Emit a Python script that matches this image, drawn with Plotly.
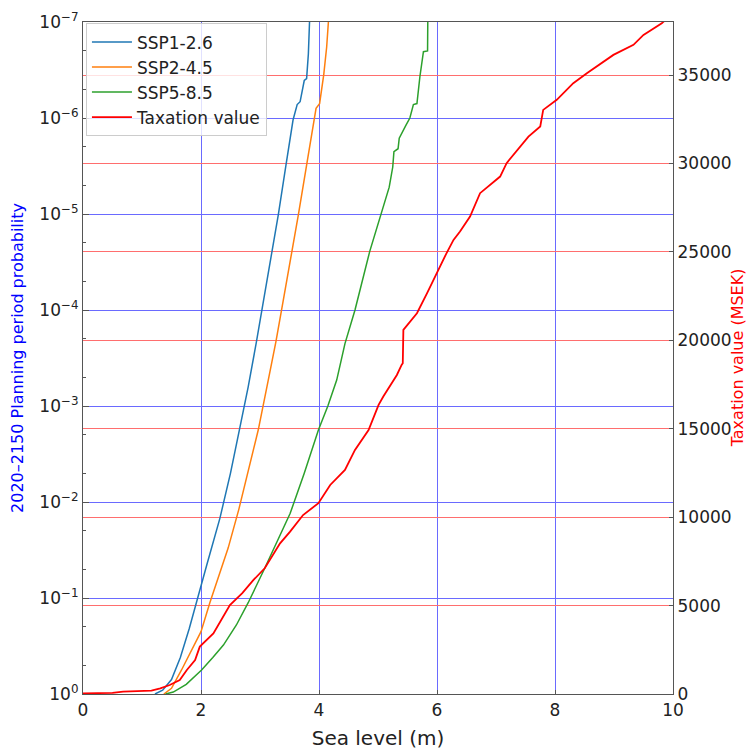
import plotly.graph_objects as go

# ---- data ----
ssp1_level = [1.22, 1.35, 1.50, 1.65, 1.80, 1.94, 2.10, 2.32, 2.50, 2.65, 2.80, 2.94, 3.05, 3.20, 3.31,
              3.44, 3.56, 3.63, 3.68, 3.75, 3.79, 3.82, 3.845]
ssp1_prob = [1.0, 0.912, 0.708, 0.417, 0.209, 0.1, 0.0447, 0.0148, 5.0e-3, 1.78e-3, 6.31e-4, 2.14e-4,
             8.91e-5, 2.57e-5, 1.02e-5, 3.09e-6, 1.05e-6, 7.24e-7, 6.76e-7, 4.07e-7, 3.89e-7, 2.14e-7, 8e-8]

ssp2_level = [1.37, 1.50, 1.67, 1.83, 2.00, 2.15, 2.30, 2.46, 2.64, 2.80, 2.97, 3.14, 3.27, 3.38, 3.54,
              3.65, 3.79, 3.90, 3.95, 4.01, 4.08, 4.13, 4.17]
ssp2_prob = [1.0, 0.871, 0.562, 0.355, 0.224, 0.112, 0.0603, 0.0302, 0.0120, 4.79e-3, 1.78e-3, 5.37e-4,
             2.14e-4, 8.91e-5, 2.57e-5, 1.02e-5, 3.09e-6, 1.23e-6, 7.94e-7, 7.08e-7, 3.55e-7, 1.82e-7, 8e-8]

ssp5_level = [1.40, 1.53, 1.75, 2.01, 2.20, 2.38, 2.60, 2.80, 3.08, 3.30, 3.51, 3.75, 3.99, 4.15, 4.30,
              4.44, 4.61, 4.86, 5.06, 5.19, 5.25, 5.27, 5.34, 5.36, 5.47, 5.54, 5.60, 5.66, 5.71, 5.77,
              5.84, 5.845]
ssp5_prob = [1.0, 0.955, 0.794, 0.562, 0.417, 0.309, 0.191, 0.112, 0.0490, 0.0251, 0.0132, 5.01e-3,
             1.78e-3, 1.0e-3, 5.37e-4, 2.24e-4, 1.0e-4, 2.45e-5, 9.77e-6, 5.25e-6, 3.24e-6, 2.24e-6,
             2.09e-6, 1.62e-6, 1.20e-6, 1.0e-6, 7.24e-7, 7.08e-7, 3.72e-7, 2.04e-7, 2.0e-7, 8e-8]

tax_level = [0.00, 0.50, 0.68, 1.16, 1.31, 1.47, 1.64, 1.76, 1.90, 1.98, 2.21, 2.38, 2.49, 2.70, 2.89,
             3.08, 3.34, 3.51, 3.73, 3.99, 4.19, 4.44, 4.61, 4.84, 5.01, 5.09, 5.26, 5.32, 5.40, 5.42,
             5.43, 5.66, 5.83, 5.99, 6.16, 6.28, 6.39, 6.56, 6.73, 7.07, 7.18, 7.55, 7.75, 7.80, 8.03,
             8.31, 8.54, 8.99, 9.33, 9.50, 9.81, 9.90]
tax_value = [40, 60, 130, 190, 320, 510, 790, 1360, 1920, 2680, 3430, 4370, 5030, 5700, 6450,
             7110, 8520, 9180, 10120, 10790, 11820, 12670, 13800, 14930, 16350, 16820, 17760, 18040,
             18610, 18700, 20590, 21530, 22660, 23790, 24920, 25680, 26150, 27000, 28320, 29260,
             30020, 31520, 32090, 33030, 33600, 34540, 35100, 36140, 36710, 37270, 37930, 38200]

prob_ticks = [1, 1e-1, 1e-2, 1e-3, 1e-4, 1e-5, 1e-6, 1e-7]
prob_ticktext = ["10<sup>0</sup>", "10<sup>−1</sup>", "10<sup>−2</sup>", "10<sup>−3</sup>",
                 "10<sup>−4</sup>", "10<sup>−5</sup>", "10<sup>−6</sup>", "10<sup>−7</sup>"]
tax_ticks = [0, 5000, 10000, 15000, 20000, 25000, 30000, 35000]
tax_ticktext = ["0", "5000", "10000", "15000", "20000", "25000", "30000", "35000"]

FONT = "DejaVu Sans"
AXC = "#555555"
BLUE_GRID = "#6a6aff"
RED_GRID = "#ff6e6e"

fig = go.Figure()
fig.add_trace(go.Scatter(x=ssp1_level, y=ssp1_prob, mode="lines", name="SSP1-2.6",
                         line=dict(color="#1f77b4", width=1.5)))
fig.add_trace(go.Scatter(x=ssp2_level, y=ssp2_prob, mode="lines", name="SSP2-4.5",
                         line=dict(color="#ff7f0e", width=1.5)))
fig.add_trace(go.Scatter(x=ssp5_level, y=ssp5_prob, mode="lines", name="SSP5-8.5",
                         line=dict(color="#2ca02c", width=1.5)))
fig.add_trace(go.Scatter(x=tax_level, y=tax_value, mode="lines", name="Taxation value",
                         line=dict(color="#ff0000", width=1.8), yaxis="y2"))

# right-axis title as a rotated annotation so it stays inside the visible page
fig.add_annotation(text="Taxation value (MSEK)", textangle=-90, xref="paper", yref="paper",
                   x=1.109, y=0.5, xanchor="center", yanchor="middle", showarrow=False,
                   font=dict(family=FONT, size=16, color="#ff0000"))

# page body has an 8px margin: figure is sized/offset to compensate
fig.update_layout(
    width=746, height=742, autosize=False,
    margin=dict(l=75, r=81, t=14, b=56, pad=0),
    paper_bgcolor="white", plot_bgcolor="white",
    font=dict(family=FONT, size=17, color="#222222"),
    showlegend=True,
    legend=dict(x=0.005, y=0.998, xanchor="left", yanchor="top",
                bgcolor="rgba(255,255,255,0.8)", bordercolor="#cccccc", borderwidth=1,
                font=dict(family=FONT, size=17, color="#222222"), itemwidth=40, tracegroupgap=0),
    xaxis=dict(range=[0, 10], dtick=2, tick0=0, showgrid=True,
               gridcolor=BLUE_GRID, gridwidth=1.3, zeroline=False,
               showline=True, linecolor=AXC, linewidth=1.2, mirror=True,
               ticks="inside", ticklen=4, tickcolor=AXC,
               tickfont=dict(size=17, color="#222222"), automargin=False,
               title=dict(text="Sea level (m)", font=dict(size=20, color="#222222"), standoff=14)),
    yaxis=dict(type="log", range=[0, -7], tickvals=prob_ticks, ticktext=prob_ticktext,
               showgrid=True, gridcolor=BLUE_GRID, gridwidth=1.3, zeroline=False,
               showline=True, linecolor=AXC, linewidth=1.2,
               ticks="inside", ticklen=6, tickcolor=AXC,
               minor=dict(ticks="inside", ticklen=3, tickcolor=AXC, showgrid=False),
               tickfont=dict(size=17, color="#222222"), automargin=False,
               title=dict(text="2020–2150 Planning period probability",
                          font=dict(size=16, color="#0000ff"), standoff=12)),
    yaxis2=dict(overlaying="y", side="right", range=[0, 38000], tickvals=tax_ticks,
                ticktext=tax_ticktext,
                showgrid=True, gridcolor=RED_GRID, gridwidth=1.3, zeroline=False,
                showline=True, linecolor=AXC, linewidth=1.2,
                ticks="inside", ticklen=4, tickcolor=AXC,
                tickfont=dict(size=17, color="#222222"), automargin=False),
)

fig.write_html("out.html")
